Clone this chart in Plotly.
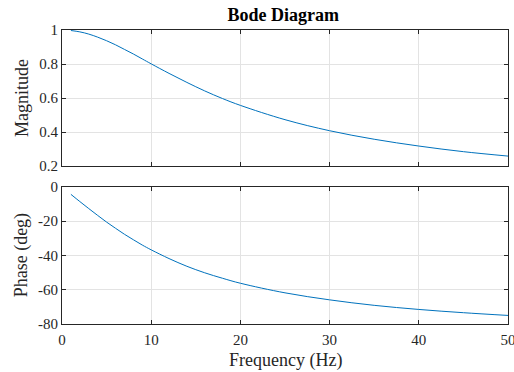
import plotly.graph_objects as go

freq_hz = [1, 2, 3, 4, 5, 6, 7, 8, 9, 10, 12, 14, 16, 18, 20, 25, 30, 35, 40, 45, 50]
magnitude = [0.997, 0.989, 0.976, 0.958, 0.937, 0.913, 0.886, 0.859, 0.830, 0.801,
             0.745, 0.692, 0.642, 0.597, 0.557, 0.473, 0.408, 0.358, 0.318, 0.285, 0.259]
phase_deg = [-4.3, -8.5, -12.6, -16.6, -20.5, -24.1, -27.6, -30.8, -33.9, -36.7,
             -41.8, -46.3, -50.1, -53.3, -56.2, -61.8, -65.9, -69.1, -71.5, -73.4, -75.0]

x_ticks = [0, 10, 20, 30, 40, 50]
x_tick_text = ["0", "10", "20", "30", "40", "50"]
mag_ticks = [0.2, 0.4, 0.6, 0.8, 1]
mag_tick_text = ["0.2", "0.4", "0.6", "0.8", "1"]
phase_ticks = [-80, -60, -40, -20, 0]
phase_tick_text = ["-80", "-60", "-40", "-20", "0"]

FONT = "Liberation Serif, Times New Roman, serif"
LINE = "#0072BD"
AX = "#262626"
GRID = "#e3e3e3"

fig = go.Figure()
fig.add_trace(go.Scatter(x=freq_hz, y=magnitude, mode="lines", xaxis="x", yaxis="y",
                         line=dict(color=LINE, width=1, shape="spline"), showlegend=False,
                         hoverinfo="skip"))
fig.add_trace(go.Scatter(x=freq_hz, y=phase_deg, mode="lines", xaxis="x2", yaxis="y2",
                         line=dict(color=LINE, width=1, shape="spline"), showlegend=False,
                         hoverinfo="skip"))

axis_common = dict(showline=True, linecolor=AX, linewidth=1, mirror="allticks",
                   ticks="inside", ticklen=4, tickcolor=AX, showgrid=True,
                   gridcolor=GRID, gridwidth=1, zeroline=False, automargin=False,
                   ticklabeloverflow="allow",
                   tickfont=dict(family=FONT, size=15, color=AX))

fig.update_layout(
    width=514, height=372,
    margin=dict(l=62, r=6, t=30, b=48, autoexpand=False),
    paper_bgcolor="white", plot_bgcolor="white",
    xaxis=dict(axis_common, range=[0, 50], tickvals=x_ticks, showticklabels=False,
               domain=[0, 1], anchor="y"),
    yaxis=dict(axis_common, range=[0.2, 1], tickvals=mag_ticks, ticktext=mag_tick_text,
               domain=[0.537, 1], anchor="x"),
    xaxis2=dict(axis_common, range=[0, 50], tickvals=x_ticks, ticktext=x_tick_text,
                domain=[0, 1], anchor="y2", ticklabelstandoff=2),
    yaxis2=dict(axis_common, range=[-80, 0], tickvals=phase_ticks, ticktext=phase_tick_text,
                domain=[0, 0.466], anchor="x2"),
    title=dict(text="<b>Bode Diagram</b>", x=0.551, xanchor="center", y=0.96, yanchor="middle",
               font=dict(family=FONT, size=18, color="black")),
    annotations=[
        dict(text="Magnitude", xref="paper", yref="paper", x=-0.09, y=0.768,
             xanchor="center", yanchor="middle", textangle=-90, showarrow=False,
             font=dict(family=FONT, size=18, color=AX)),
        dict(text="Phase (deg)", xref="paper", yref="paper", x=-0.09, y=0.233,
             xanchor="center", yanchor="middle", textangle=-90, showarrow=False,
             font=dict(family=FONT, size=18, color=AX)),
        dict(text="Frequency (Hz)", xref="paper", yref="paper", x=0.5, y=-0.123,
             xanchor="center", yanchor="middle", showarrow=False,
             font=dict(family=FONT, size=18, color=AX)),
    ],
)

fig.write_html("out.html", config={"displayModeBar": False},
               post_script="document.body.style.margin='0';")
